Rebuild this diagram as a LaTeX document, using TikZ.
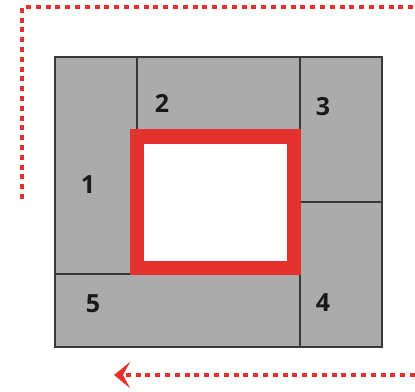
\documentclass[tikz,border=0pt]{standalone}
\usepackage{fontspec}
\setmainfont{Open Sans}
\usetikzlibrary{arrows.meta}
\definecolor{myred}{HTML}{E3312D}
\definecolor{mygray}{HTML}{ABABAB}
\definecolor{myline}{HTML}{383838}
\tikzset{
  region/.style={fill=mygray, draw=myline, line width=1.4pt},
  divider/.style={draw=myline, line width=1.4pt},
  redframe/.style={draw=myred, fill=white, line width=14.5pt},
  flow/.style={draw=myred, line width=4.3pt, dash pattern=on 5pt off 4.8pt},
  num/.style={font=\fontsize{25}{25}\selectfont\bfseries, text=black!90, inner sep=0pt}
}
\begin{document}
\begin{tikzpicture}[x=1pt, y=-1pt]
\useasboundingbox (0,0) rectangle (415,391);
% gray block
\draw[region] (55,57) rectangle (382,347);
\draw[divider] (137,57) -- (137,140);
\draw[divider] (300,57) -- (300,347);
\draw[divider] (300,202) -- (382,202);
\draw[divider] (55,274) -- (140,274);
% red frame
\draw[redframe] (137.2,136.7) rectangle (294.2,268);
% labels
\node[num] (n1) at (88,185) {1};
\node[num] (n2) at (162,103) {2};
\node[num] (n3) at (323,107) {3};
\node[num] (n4) at (323,303) {4};
\node[num] (n5) at (93,304) {5};
% flow paths
\coordinate (s1) at (22,199);
\coordinate (c1) at (22,7);
\coordinate (e1) at (415,7);
\draw[flow] (s1) -- (c1) -- (e1);
\coordinate (s2) at (415,375);
\coordinate (e2) at (114,375);
\draw[flow, -{Stealth[length=16pt, width=26pt, inset=7pt]}] (s2) -- (e2);
\end{tikzpicture}
\end{document}
